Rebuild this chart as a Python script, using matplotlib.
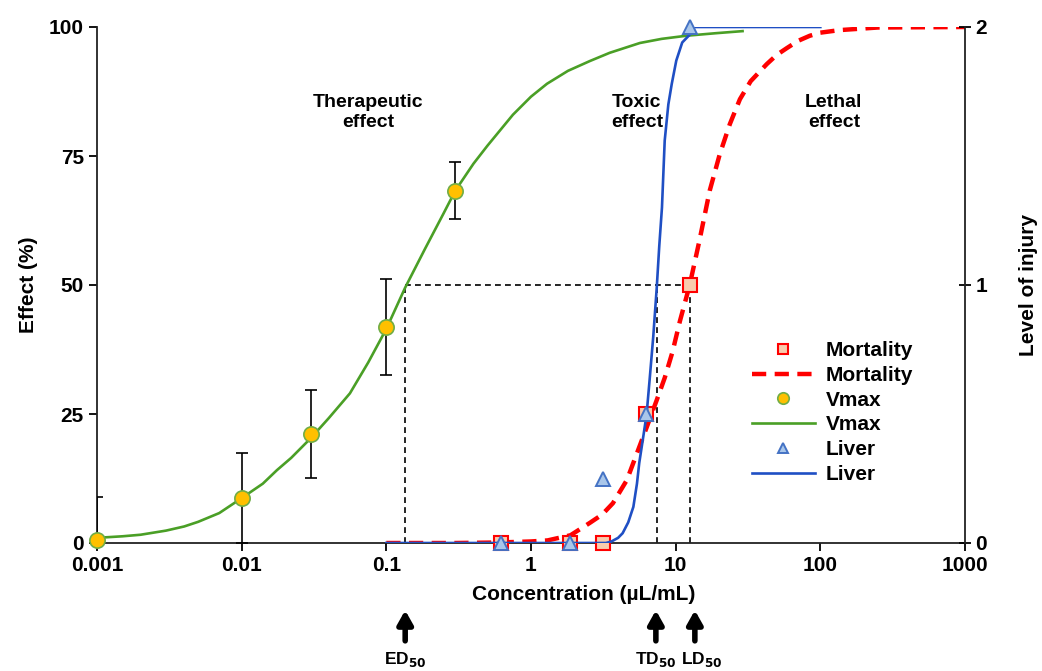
#!/usr/bin/env python3

import matplotlib
matplotlib.use("Agg")
import matplotlib.pyplot as plt

plt.rcParams['font.family'] = ['Liberation Sans', 'DejaVu Sans']
plt.rcParams['font.weight'] = 'bold'

# measured points
vmax_x = [0.001, 0.01, 0.03, 0.1, 0.3]
vmax_y = [0.5, 8.7, 21.1, 41.8, 68.3]
vmax_err = [8.5, 8.7, 8.5, 9.3, 5.5]

mort_x = [0.625, 1.875, 3.125, 6.25, 12.5]
mort_y = [0, 0, 0, 25, 50]

liver_x = [0.625, 1.875, 3.125, 6.25, 12.5]
liver_y = [0, 0, 0.25, 0.5, 2]

# fitted curves
vmax_fit_x = [0.001, 0.0015, 0.002, 0.003, 0.004, 0.005, 0.007, 0.01, 0.014,
              0.0175, 0.022, 0.03, 0.04, 0.056, 0.075, 0.1, 0.135, 0.185, 0.25,
              0.3, 0.4, 0.5, 0.75, 1.0, 1.29, 1.8, 2.55, 3.5, 5.66, 8, 11.8, 19, 29]
vmax_fit_y = [1.0, 1.3, 1.6, 2.4, 3.2, 4.1, 5.8, 8.7, 11.5,
              14.1, 16.5, 20.3, 24.2, 29.0, 35.0, 41.5, 49.5, 57.0, 64.0,
              68.3, 73.5, 77.0, 83.0, 86.5, 89.0, 91.5, 93.4, 95.0, 96.9, 97.7, 98.3, 98.8, 99.2]

mort_fit_x = [0.1, 0.3, 0.6, 1, 1.3, 1.875, 2.55, 3.1, 3.68, 4.6, 5.4, 6.3, 7.4,
              8.4, 9.5, 10.7, 12.5, 14.6, 17.2, 20.2, 23.7, 27.8, 33, 42.6,
              50, 58.6, 70, 84.5, 100, 136, 250, 1000]
mort_fit_y = [0, 0, 0.1, 0.3, 0.5, 1.5, 3.9, 5.5, 7.7, 12.2, 17.4, 22.4, 27.7,
              32, 37, 43, 50, 58.6, 68.3, 75.4, 81.2, 86, 89.5, 92.8,
              94.6, 95.9, 97.3, 98.3, 98.9, 99.4, 99.9, 100]

liver_fit_x = [0.1, 1, 3.3, 3.6, 4.0, 4.3, 4.7, 5.1, 5.4, 5.6, 6.0, 6.3, 6.6, 7.0,
               7.4, 7.7, 8.04, 8.4, 8.9, 9.4, 10.1, 11.1, 12.5, 13.5, 100]
liver_fit_y = [0, 0, 0, 0.006, 0.02, 0.038, 0.08, 0.14, 0.23, 0.31, 0.42, 0.5, 0.63, 0.8,
               0.99, 1.15, 1.3, 1.56, 1.7, 1.78, 1.87, 1.94, 1.97, 2, 2]

ed50, td50, ld50 = 0.135, 7.4, 12.5

fig = plt.figure(figsize=(10.42, 6.71), dpi=100)
ax = fig.add_axes([97/1042, 1-543/671, 868/1042, 516/671])
ax2 = ax.twinx()

# reference dashed lines
dk = dict(color='black', lw=1.2, linestyle=(0, (3.5, 2.5)))
ax.plot([ed50, ed50], [0, 50], **dk)
ax.plot([ed50, ld50], [50, 50], **dk)
ax.plot([td50, td50], [0, 50], **dk)
ax.plot([ld50, ld50], [0, 50], **dk)

ax.errorbar(vmax_x, vmax_y, yerr=vmax_err, fmt='none', ecolor='black',
            elinewidth=1.2, capsize=4.5, capthick=1.2, zorder=3)
l_vfit, = ax.plot(vmax_fit_x, vmax_fit_y, color='#4a9f26', lw=1.9, zorder=4)
m_vmax, = ax.plot(vmax_x, vmax_y, 'o', ms=11, mfc='#ffc000', mec='#70ad47',
                  mew=1.2, zorder=5, clip_on=False)
l_mfit, = ax.plot(mort_fit_x, mort_fit_y, color='#ff0000', lw=3.2,
                  linestyle=(0, (3.2, 1.9)), zorder=4)
m_mort, = ax.plot(mort_x, mort_y, 's', ms=10, mfc='#f8cbad', mec='#ff0000',
                  mew=1.5, zorder=6, clip_on=False)

l_lfit, = ax2.plot(liver_fit_x, liver_fit_y, color='#1f4fc4', lw=1.9, zorder=4)
m_liver, = ax2.plot(liver_x, liver_y, '^', ms=10, mfc='#a9c6ea', mec='#4472c4',
                    mew=1.4, zorder=6, clip_on=False)

ax.set_xscale('log')
ax.set_xlim(0.001, 1000)
ax.set_ylim(0, 100)
ax2.set_ylim(0, 2)
ax.set_xticks([0.001, 0.01, 0.1, 1, 10, 100, 1000])
ax.set_xticklabels(['0.001', '0.01', '0.1', '1', '10', '100', '1000'])
ax.minorticks_off()
ax.set_yticks([0, 25, 50, 75, 100])
ax2.set_yticks([0, 1, 2])

for a in (ax, ax2):
    a.spines['top'].set_visible(False)
    for s in a.spines.values():
        s.set_linewidth(1.3)
        s.set_color('#222222')
ax.spines['right'].set_visible(False)
ax2.spines['left'].set_visible(False)
ax2.spines['bottom'].set_visible(False)

ax.tick_params(axis='both', labelsize=15, width=1.3, length=6, direction='out')
ax2.tick_params(axis='y', labelsize=15, width=1.3, length=8, direction='inout')

fig.text(28/1042, 1-285/671, 'Effect (%)', rotation=90, ha='center', va='center',
         fontsize=15, fontweight='bold')
fig.text(1029/1042, 1-285/671, 'Level of injury', rotation=90, ha='center', va='center',
         fontsize=15, fontweight='bold')
ax.set_xlabel('Concentration (µL/mL)', fontsize=15, fontweight='bold')
ax.xaxis.set_label_coords(0.561, -0.082)

# region labels
ax.text(0.0747, 83.4, 'Therapeutic\neffect', ha='center', va='center', fontsize=14)
ax.text(5.4, 83.4, 'Toxic\neffect', ha='center', va='center', fontsize=14)
ax.text(124, 83.4, 'Lethal\neffect', ha='center', va='center', fontsize=14)

# arrows under the axis
td_x = 10 ** ((656 - 97) / 144.7 - 3)
ld_x = 10 ** ((702 - 97) / 144.7 - 3)
arr_x = [ed50, td_x, 10 ** ((695 - 97) / 144.7 - 3)]
for xv in arr_x:
    ax.annotate('', xy=(xv, -0.125), xytext=(xv, -0.195),
                xycoords=('data', 'axes fraction'), textcoords=('data', 'axes fraction'),
                arrowprops=dict(arrowstyle='-|>,head_width=0.45,head_length=0.8',
                                color='black', lw=4))
for xv, lab in [(ed50, 'ED$_{50}$'), (td_x, 'TD$_{50}$'), (ld_x, 'LD$_{50}$')]:
    ax.text(xv, -0.226, lab, transform=ax.get_xaxis_transform(),
            ha='center', va='center', fontsize=12.5)

leg = ax2.legend([m_mort, l_mfit, m_vmax, l_vfit, m_liver, l_lfit],
                 ['Mortality', 'Mortality', 'Vmax', 'Vmax', 'Liver', 'Liver'],
                 loc='upper left', bbox_to_anchor=(752/1042, 1-341/671),
                 bbox_transform=fig.transFigure, frameon=False, fontsize=15,
                 handlelength=3.0, handletextpad=0.55, labelspacing=0.28,
                 borderpad=0, borderaxespad=0, markerscale=0.75)

fig.savefig('out.png', dpi=100)
